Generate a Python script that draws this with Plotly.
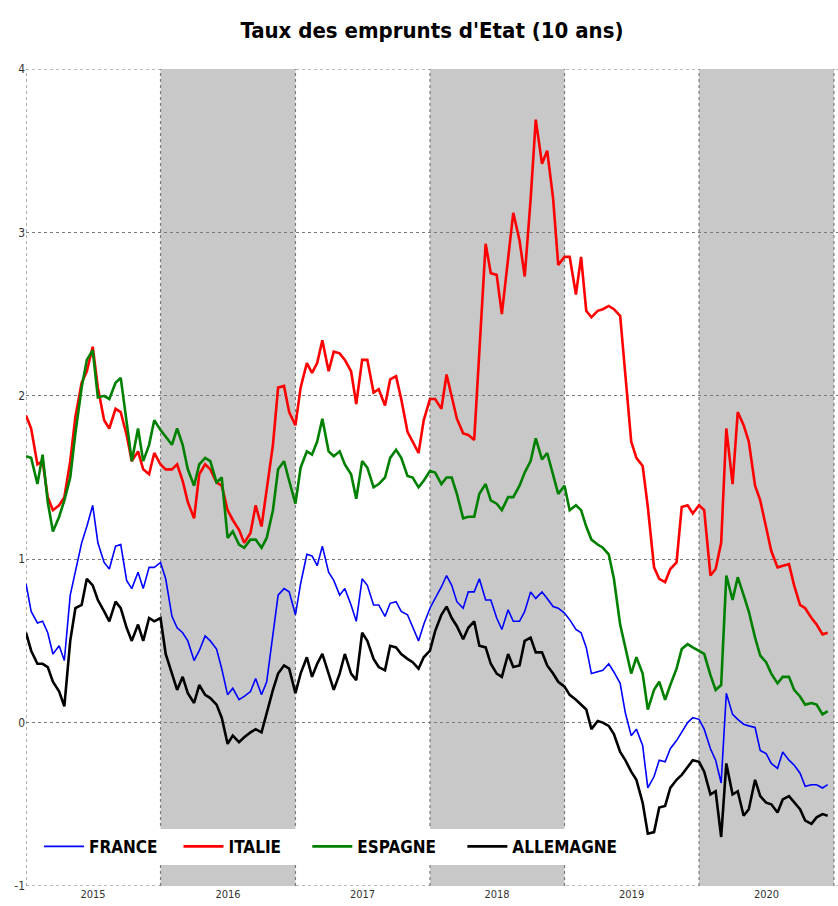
import pandas as pd
import plotly.graph_objects as go

# semi-monthly observation dates (1st and 15th of each month), Jan 2015 - Dec 2020
dates = pd.date_range(start="2015-01-01", periods=144, freq="SMS")

france = [
    0.85, 0.68, 0.61, 0.62, 0.55, 0.42, 0.47, 0.38, 0.78, 0.93, 1.10, 1.20,
    1.33, 1.10, 0.98, 0.94, 1.08, 1.09, 0.87, 0.82, 0.92, 0.82, 0.95, 0.95,
    0.98, 0.88, 0.65, 0.58, 0.55, 0.50, 0.38, 0.44, 0.53, 0.50, 0.45, 0.33,
    0.17, 0.21, 0.14, 0.16, 0.19, 0.27, 0.17, 0.25, 0.55, 0.78, 0.82, 0.80,
    0.66, 0.85, 1.03, 1.02, 0.96, 1.08, 0.92, 0.87, 0.78, 0.82, 0.72, 0.62,
    0.88, 0.84, 0.72, 0.72, 0.65, 0.73, 0.74, 0.68, 0.66, 0.58, 0.50, 0.60,
    0.70, 0.76, 0.83, 0.90, 0.84, 0.74, 0.70, 0.80, 0.80, 0.88, 0.75, 0.75,
    0.64, 0.57, 0.69, 0.62, 0.62, 0.68, 0.80, 0.76, 0.80, 0.76, 0.71, 0.70,
    0.67, 0.63, 0.57, 0.55, 0.46, 0.30, 0.31, 0.32, 0.36, 0.31, 0.24, 0.06,
    -0.08, -0.04, -0.14, -0.40, -0.33, -0.23, -0.24, -0.16, -0.11, -0.06, 0.00, 0.03,
    0.02, -0.04, -0.16, -0.23, -0.37, 0.18, 0.05, 0.02, -0.01, -0.02, -0.03, -0.17,
    -0.19, -0.25, -0.28, -0.18, -0.23, -0.26, -0.31, -0.39, -0.38, -0.38, -0.40, -0.38,
]

italie = [
    1.88, 1.80, 1.58, 1.60, 1.38, 1.30, 1.33, 1.38, 1.60, 1.87, 2.08, 2.15,
    2.30, 2.05, 1.85, 1.80, 1.92, 1.90, 1.76, 1.60, 1.66, 1.55, 1.52, 1.65,
    1.58, 1.55, 1.55, 1.58, 1.48, 1.35, 1.25, 1.52, 1.58, 1.55, 1.47, 1.45,
    1.30, 1.24, 1.18, 1.10, 1.16, 1.33, 1.20, 1.43, 1.70, 2.05, 2.06, 1.90,
    1.82, 2.05, 2.20, 2.14, 2.20, 2.34, 2.15, 2.27, 2.26, 2.22, 2.15, 1.95,
    2.22, 2.22, 2.02, 2.04, 1.94, 2.10, 2.12, 1.98, 1.78, 1.72, 1.65, 1.85,
    1.98, 1.98, 1.92, 2.13, 2.00, 1.86, 1.77, 1.76, 1.73, 2.30, 2.93, 2.75,
    2.74, 2.50, 2.85, 3.12, 2.95, 2.73, 3.20, 3.69, 3.42, 3.50, 3.21, 2.80,
    2.85, 2.85, 2.62, 2.85, 2.52, 2.48, 2.52, 2.53, 2.55, 2.53, 2.49, 2.15,
    1.72, 1.62, 1.57, 1.32, 0.95, 0.88, 0.86, 0.94, 0.98, 1.32, 1.33, 1.28,
    1.33, 1.30, 0.90, 0.94, 1.10, 1.80, 1.46, 1.90, 1.82, 1.72, 1.45, 1.36,
    1.19, 1.05, 0.95, 0.96, 0.97, 0.84, 0.72, 0.70, 0.64, 0.60, 0.54, 0.55,
]

espagne = [
    1.63, 1.62, 1.46, 1.64, 1.35, 1.17, 1.26, 1.36, 1.50, 1.77, 2.05, 2.22,
    2.28, 1.99, 2.00, 1.98, 2.08, 2.11, 1.84, 1.60, 1.80, 1.60, 1.70, 1.85,
    1.79, 1.75, 1.70, 1.80, 1.70, 1.55, 1.45, 1.58, 1.62, 1.60, 1.47, 1.50,
    1.13, 1.17, 1.09, 1.07, 1.12, 1.12, 1.07, 1.13, 1.30, 1.55, 1.60, 1.48,
    1.34, 1.56, 1.66, 1.64, 1.72, 1.86, 1.66, 1.63, 1.66, 1.58, 1.52, 1.37,
    1.60, 1.56, 1.44, 1.46, 1.50, 1.62, 1.67, 1.62, 1.51, 1.50, 1.44, 1.48,
    1.54, 1.53, 1.46, 1.50, 1.50, 1.40, 1.25, 1.26, 1.26, 1.40, 1.46, 1.36,
    1.34, 1.30, 1.38, 1.38, 1.45, 1.53, 1.60, 1.74, 1.61, 1.65, 1.52, 1.40,
    1.45, 1.30, 1.33, 1.30, 1.20, 1.12, 1.09, 1.07, 1.03, 0.88, 0.60, 0.45,
    0.30, 0.40, 0.30, 0.08, 0.20, 0.25, 0.14, 0.23, 0.33, 0.45, 0.48, 0.46,
    0.44, 0.42, 0.29, 0.20, 0.23, 0.90, 0.75, 0.89, 0.78, 0.68, 0.52, 0.41,
    0.37, 0.30, 0.24, 0.28, 0.28, 0.20, 0.16, 0.11, 0.12, 0.11, 0.05, 0.07,
]

allemagne = [
    0.55, 0.44, 0.36, 0.36, 0.34, 0.25, 0.19, 0.10, 0.50, 0.70, 0.72, 0.88,
    0.84, 0.75, 0.68, 0.62, 0.74, 0.70, 0.58, 0.50, 0.60, 0.50, 0.64, 0.62,
    0.64, 0.42, 0.30, 0.20, 0.28, 0.18, 0.12, 0.23, 0.17, 0.15, 0.11, 0.03,
    -0.13, -0.08, -0.12, -0.09, -0.06, -0.04, -0.06, 0.06, 0.20, 0.30, 0.35, 0.33,
    0.18, 0.30, 0.40, 0.28, 0.36, 0.42, 0.30, 0.20, 0.30, 0.42, 0.30, 0.26,
    0.55, 0.50, 0.39, 0.34, 0.32, 0.47, 0.46, 0.42, 0.39, 0.37, 0.33, 0.40,
    0.44, 0.56, 0.66, 0.71, 0.64, 0.59, 0.51, 0.58, 0.62, 0.47, 0.46, 0.36,
    0.30, 0.28, 0.42, 0.34, 0.35, 0.50, 0.52, 0.43, 0.43, 0.35, 0.30, 0.25,
    0.22, 0.17, 0.14, 0.11, 0.08, -0.04, 0.01, 0.00, -0.02, -0.07, -0.18, -0.23,
    -0.30, -0.35, -0.49, -0.68, -0.67, -0.52, -0.51, -0.40, -0.35, -0.32, -0.27, -0.23,
    -0.24, -0.30, -0.44, -0.42, -0.70, -0.25, -0.44, -0.42, -0.57, -0.53, -0.35, -0.45,
    -0.49, -0.50, -0.55, -0.47, -0.45, -0.49, -0.53, -0.60, -0.62, -0.58, -0.56, -0.57,
]

years = [2015, 2016, 2017, 2018, 2019, 2020]
shaded_years = [2016, 2018, 2020]
y_ticks = [-1, 0, 1, 2, 3, 4]

FONT = "DejaVu Sans Condensed, Liberation Sans Narrow, Arial Narrow, sans-serif"
NB = "\u00a0"  # spacing after legend labels

series = [
    ("FRANCE", france, "#0000ff", 1.6, NB * 3),
    ("ITALIE", italie, "#ff0000", 2.6, NB * 4),
    ("ESPAGNE", espagne, "#008000", 2.6, NB * 4),
    ("ALLEMAGNE", allemagne, "#000000", 2.6, ""),
]

fig = go.Figure()
for name, vals, color, w, pad in series:
    fig.add_trace(go.Scatter(x=dates, y=vals, mode="lines", name=name + pad,
                             line=dict(color=color, width=w)))

shapes = []
for yr in shaded_years:
    shapes.append(dict(type="rect", xref="x", yref="y", x0=f"{yr}-01-01", x1=f"{yr + 1}-01-01",
                       y0=y_ticks[0], y1=y_ticks[-1], fillcolor="#c8c8c8", line=dict(width=0),
                       layer="below"))
for yr in years + [years[-1] + 1]:
    shapes.append(dict(type="line", xref="x", yref="y", x0=f"{yr}-01-01", x1=f"{yr}-01-01",
                       y0=y_ticks[0], y1=y_ticks[-1], line=dict(color="#7a7a7a", width=1.2, dash="dot"),
                       layer="below"))
for yv in (y_ticks[0], y_ticks[-1]):
    shapes.append(dict(type="line", xref="paper", yref="y", x0=0, x1=1, y0=yv, y1=yv,
                       line=dict(color="#7a7a7a", width=1.2, dash="dot"), layer="below"))

fig.update_layout(
    width=838, height=906,
    margin=dict(l=26, r=0, t=69, b=20, autoexpand=False),
    paper_bgcolor="white", plot_bgcolor="white",
    title=dict(text="Taux des emprunts d'Etat (10 ans)", x=0.5, xref="paper",
               y=1 - 30 / 906, yref="container", yanchor="middle",
               font=dict(family=FONT, size=22, color="black", weight="bold")),
    shapes=shapes,
    showlegend=True,
    legend=dict(orientation="h", x=0.016, xanchor="left", y=0.048, yanchor="middle",
                bgcolor="white", borderwidth=0,
                font=dict(family=FONT, size=17, color="black", weight="bold"),
                itemwidth=40, tracegroupgap=0),
    xaxis=dict(range=["2015-01-01", "2021-01-12"], showgrid=False, zeroline=False,
               showline=False, ticks="", automargin=False,
               tickvals=[f"{yr}-07-02" for yr in years], ticktext=[str(yr) for yr in years],
               tickfont=dict(family=FONT, size=11, color="#333333")),
    yaxis=dict(range=[y_ticks[0], y_ticks[-1]], showgrid=True, gridcolor="#7a7a7a",
               gridwidth=1.2, griddash="dot", zeroline=False, showline=False, ticks="",
               automargin=False,
               tickvals=y_ticks, ticktext=[str(v) for v in y_ticks],
               tickfont=dict(family=FONT, size=12, color="#333333")),
)

fig.write_html("out.html", config={"displayModeBar": False},
               post_script="document.body.style.margin='0';document.body.style.padding='0';")
